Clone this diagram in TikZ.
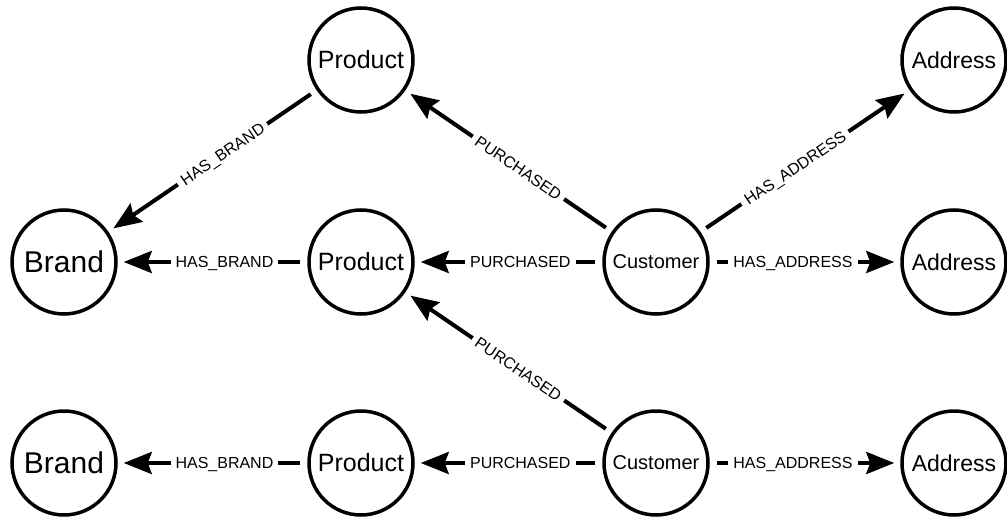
\documentclass[tikz,border=0pt]{standalone}
\usepackage{fontspec}
\setmainfont{Liberation Sans}
\usetikzlibrary{arrows.meta}
\begin{document}
\begin{tikzpicture}[x=1pt,y=-1pt,
  entity/.style={circle, draw, line width=3.5pt, minimum size=104pt, inner sep=0pt},
  fs/.style={font=\fontsize{#1}{#1}\selectfont},
  rel/.style={draw, line width=4pt, -{Stealth[length=28pt,width=22pt,inset=4pt]},
    shorten <=7pt, shorten >=6pt},
  lbl/.style={fill=white, fs=16, inner xsep=5pt, inner ysep=2pt,
    text height=11.5pt, text depth=0pt, sloped},
  hl/.style={lbl, pos=0.437},
  dl/.style={lbl, pos=0.452}
]
\useasboundingbox (0,0) rectangle (1007,519);

% entities
\node[entity, fs=25] (p1) at (361,60)  {Product};
\node[entity, fs=23] (a1) at (954,60)  {Address};
\node[entity, fs=30] (b2) at (64,262)  {Brand};
\node[entity, fs=25] (p2) at (361,262) {Product};
\node[entity, fs=20] (c2) at (656,262) {Customer};
\node[entity, fs=23] (a2) at (954,262) {Address};
\node[entity, fs=30] (b3) at (64,463)  {Brand};
\node[entity, fs=25] (p3) at (361,463) {Product};
\node[entity, fs=20] (c3) at (656,463) {Customer};
\node[entity, fs=23] (a3) at (954,463) {Address};

% relationships
\draw[rel] (p1) -- node[dl]{HAS\_BRAND} (b2);
\draw[rel] (c2) -- node[dl]{PURCHASED} (p1);
\draw[rel] (c2) -- node[dl]{HAS\_ADDRESS} (a1);
\draw[rel] (p2) -- node[hl]{HAS\_BRAND} (b2);
\draw[rel] (c2) -- node[hl]{PURCHASED} (p2);
\draw[rel] (c2) -- node[hl]{HAS\_ADDRESS} (a2);
\draw[rel] (c3) -- node[dl]{PURCHASED} (p2);
\draw[rel] (p3) -- node[hl]{HAS\_BRAND} (b3);
\draw[rel] (c3) -- node[hl]{PURCHASED} (p3);
\draw[rel] (c3) -- node[hl]{HAS\_ADDRESS} (a3);
\end{tikzpicture}
\end{document}
